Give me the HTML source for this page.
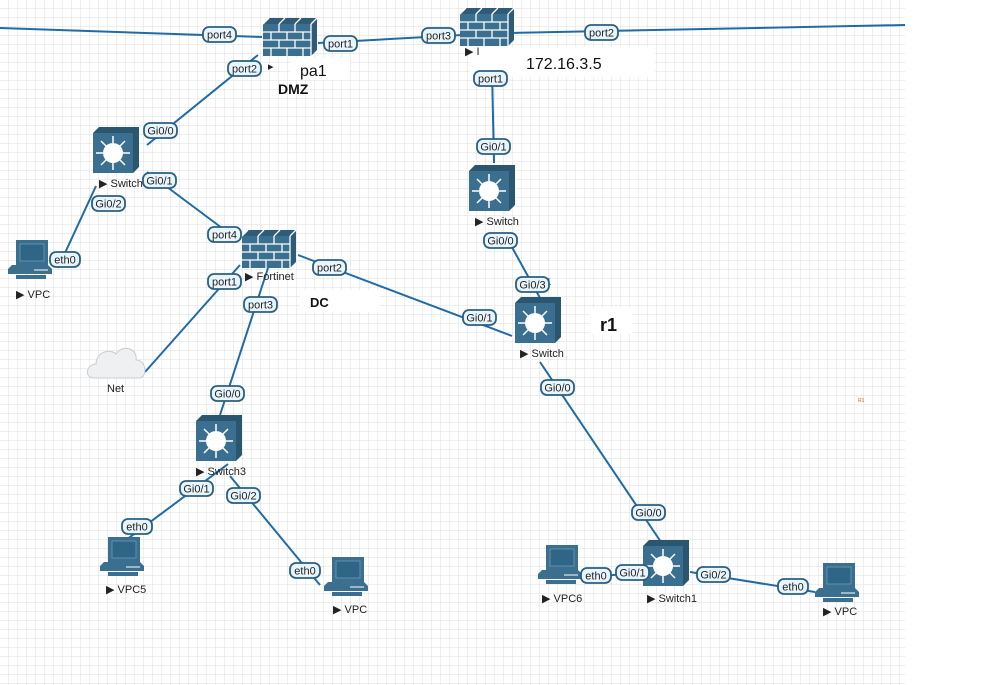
<!DOCTYPE html>
<html><head><meta charset="utf-8"><style>
html,body{margin:0;padding:0;background:#fff}
svg{display:block}
text{font-family:"Liberation Sans",sans-serif}
</style></head><body>
<svg width="999" height="685" viewBox="0 0 999 685" xmlns="http://www.w3.org/2000/svg">
<defs>
<pattern id="g" width="9" height="9" patternUnits="userSpaceOnUse">
<path d="M9 0V9H0" fill="none" stroke="#dedede" stroke-width="1"/>
</pattern>
<g id="fw">
<path d="M0 6 L6 0 L54 0 L54 32 L48 38 Z" fill="#2e5c78"/>
<rect x="0" y="6" width="48" height="32" fill="#3a6f8f"/>
<g stroke="#fff" stroke-width="1.3" fill="none">
<path d="M0 14H48M0 22H48M0 30H48"/>
<path d="M16 6V14M32 6V14M8 14V22M24 14V22M40 14V22M16 22V30M32 22V30M8 30V38M24 30V38M40 30V38"/>
<path d="M6 0L0 6M22 0L16 6M38 0L32 6M54 0L48 6M48 6V38"/>
</g>
</g>
<g id="sw">
<path d="M0 6 L6 0 L46 0 L46 40 L40 46 L40 6 Z" fill="#2a566f"/>
<rect x="0" y="6" width="40" height="40" fill="#3a6f8f"/>
<g stroke="#fff" stroke-width="1.5">
<path d="M20 9V43M3 26H37M8 14L32 38M32 14L8 38"/>
</g>
<circle cx="20" cy="26" r="10" fill="#fff"/>
</g>
<g id="pc">
<rect x="8" y="0" width="32" height="25" fill="#3a6f8f"/>
<rect x="12" y="4" width="24" height="17" fill="#2f6586" stroke="#6f9bb5" stroke-width="0.8"/>
<path d="M4 25 L40 25 L44 29 L44 34 L0 34 L0 29 Z" fill="#3a6f8f"/>
<path d="M26 30H40" stroke="#fff" stroke-width="1"/>
<rect x="8" y="35" width="30" height="4" fill="#3a6f8f"/>
</g>
</defs>
<rect x="0" y="0" width="905" height="685" fill="url(#g)"/>

<g stroke="#1e6ba8" stroke-width="2" fill="none">
<path d="M0 28 L262 37"/>
<path d="M318 43 L462 35"/>
<path d="M507 33 L905 25"/>
<path d="M258 55 L147 145"/>
<path d="M147 172 L238 240"/>
<path d="M96 186 L58 268"/>
<path d="M240 265 L145 372"/>
<path d="M268 268 L220 415"/>
<path d="M298 255 L512 336"/>
<path d="M492 70 L494 163"/>
<path d="M508 240 L540 298"/>
<path d="M540 362 L665 548"/>
<path d="M228 464 L118 546"/>
<path d="M230 476 L320 585"/>
<path d="M583 578 L643 572"/>
<path d="M690 572 L815 592"/>
</g>

<use href="#fw" x="263" y="18"/>
<use href="#fw" x="460" y="8"/>
<use href="#fw" x="242" y="230"/>
<use href="#sw" x="93" y="127"/>
<use href="#sw" x="469" y="165"/>
<use href="#sw" x="515" y="297"/>
<use href="#sw" x="196" y="415"/>
<use href="#sw" x="643" y="540"/>
<use href="#pc" x="8" y="240"/>
<use href="#pc" x="100" y="537"/>
<use href="#pc" x="324" y="557"/>
<use href="#pc" x="538" y="545"/>
<use href="#pc" x="815" y="563"/>

<path d="M94 378 C84 378 86 364 96 364 C96 352 110 348 116 354 C122 344 138 348 136 360 C146 360 148 376 140 378 Z" fill="#eef0f2" stroke="#c8ccd0" stroke-width="1"/>

<rect x="290" y="58" width="60" height="22" fill="#fff"/>
<rect x="470" y="47" width="185" height="30" fill="#fff"/>
<rect x="590" y="308" width="42" height="26" fill="#fff"/>
<rect x="300" y="290" width="80" height="22" fill="#fff"/>

<g font-size="11" fill="#222">
<text x="268" y="70">▸</text>
<text x="465" y="55">▶ I</text>
<text x="99" y="187">▶ Switch</text>
<text x="475" y="225">▶ Switch</text>
<text x="520" y="357">▶ Switch</text>
<text x="196" y="475">▶ Switch3</text>
<text x="647" y="602">▶ Switch1</text>
<text x="245" y="280">▶ Fortinet</text>
<text x="16" y="298">▶ VPC</text>
<text x="106" y="593">▶ VPC5</text>
<text x="333" y="613">▶ VPC</text>
<text x="542" y="602">▶ VPC6</text>
<text x="823" y="615">▶ VPC</text>
<text x="107" y="392">Net</text>
</g>
<text x="300" y="76" font-size="16" fill="#111">pa1</text>
<text x="278" y="94" font-size="14" font-weight="bold" fill="#111">DMZ</text>
<text x="526" y="69" font-size="16" fill="#111">172.16.3.5</text>
<text x="310" y="307" font-size="13" font-weight="bold" fill="#111">DC</text>
<text x="600" y="331" font-size="18" font-weight="bold" fill="#111">r1</text>
<text x="858" y="402" font-size="5" fill="#d06020">R1</text>
<text x="546" y="285" font-size="10" fill="#6040a0">1</text>

<g font-size="11" fill="#222" text-anchor="middle">
<g stroke="#2a5f80" stroke-width="1.8" fill="#e9f5fc">
<rect x="203" y="27" width="33" height="15" rx="6"/>
<rect x="324" y="36" width="33" height="15" rx="6"/>
<rect x="422" y="28" width="33" height="15" rx="6"/>
<rect x="585" y="25" width="33" height="15" rx="6"/>
<rect x="228" y="61" width="33" height="15" rx="6"/>
<rect x="474" y="71" width="33" height="15" rx="6"/>
<rect x="144" y="123" width="33" height="15" rx="6"/>
<rect x="143" y="173" width="33" height="15" rx="6"/>
<rect x="92" y="196" width="33" height="15" rx="6"/>
<rect x="477" y="139" width="33" height="15" rx="6"/>
<rect x="50" y="252" width="30" height="15" rx="6"/>
<rect x="208" y="227" width="33" height="15" rx="6"/>
<rect x="208" y="274" width="33" height="15" rx="6"/>
<rect x="313" y="260" width="33" height="15" rx="6"/>
<rect x="244" y="297" width="33" height="15" rx="6"/>
<rect x="484" y="233" width="33" height="15" rx="6"/>
<rect x="516" y="277" width="33" height="15" rx="6"/>
<rect x="463" y="310" width="33" height="15" rx="6"/>
<rect x="541" y="380" width="33" height="15" rx="6"/>
<rect x="211" y="386" width="33" height="15" rx="6"/>
<rect x="180" y="481" width="33" height="15" rx="6"/>
<rect x="227" y="488" width="33" height="15" rx="6"/>
<rect x="122" y="519" width="30" height="15" rx="6"/>
<rect x="290" y="563" width="30" height="15" rx="6"/>
<rect x="632" y="505" width="33" height="15" rx="6"/>
<rect x="616" y="565" width="33" height="15" rx="6"/>
<rect x="581" y="568" width="30" height="15" rx="6"/>
<rect x="697" y="567" width="33" height="15" rx="6"/>
<rect x="778" y="579" width="30" height="15" rx="6"/>
</g>
<text x="219.5" y="38.5">port4</text>
<text x="340.5" y="47.5">port1</text>
<text x="438.5" y="39.5">port3</text>
<text x="601.5" y="36.5">port2</text>
<text x="244.5" y="72.5">port2</text>
<text x="490.5" y="82.5">port1</text>
<text x="160.5" y="134.5">Gi0/0</text>
<text x="159.5" y="184.5">Gi0/1</text>
<text x="108.5" y="207.5">Gi0/2</text>
<text x="493.5" y="150.5">Gi0/1</text>
<text x="65" y="263.5">eth0</text>
<text x="224.5" y="238.5">port4</text>
<text x="224.5" y="285.5">port1</text>
<text x="329.5" y="271.5">port2</text>
<text x="260.5" y="308.5">port3</text>
<text x="500.5" y="244.5">Gi0/0</text>
<text x="532.5" y="288.5">Gi0/3</text>
<text x="479.5" y="321.5">Gi0/1</text>
<text x="557.5" y="391.5">Gi0/0</text>
<text x="227.5" y="397.5">Gi0/0</text>
<text x="196.5" y="492.5">Gi0/1</text>
<text x="243.5" y="499.5">Gi0/2</text>
<text x="137" y="530.5">eth0</text>
<text x="305" y="574.5">eth0</text>
<text x="648.5" y="516.5">Gi0/0</text>
<text x="632.5" y="576.5">Gi0/1</text>
<text x="596" y="579.5">eth0</text>
<text x="713.5" y="578.5">Gi0/2</text>
<text x="793" y="590.5">eth0</text>
</g>
</svg>
</body></html>
